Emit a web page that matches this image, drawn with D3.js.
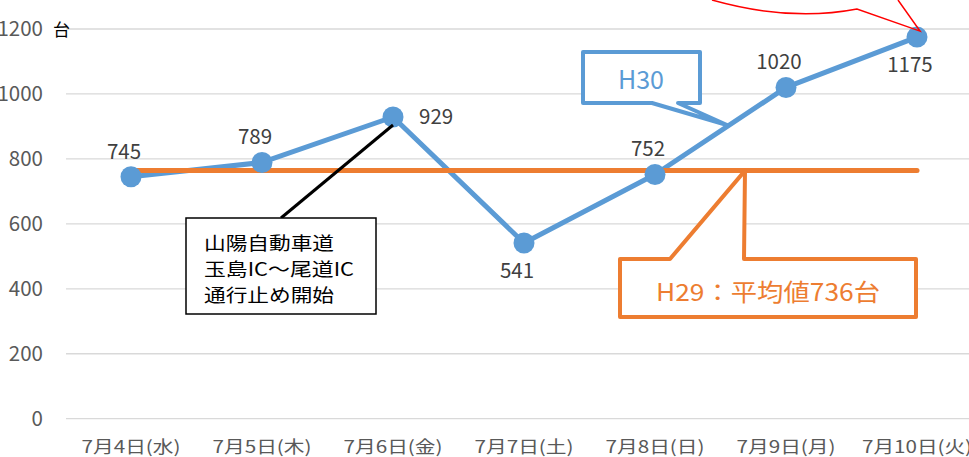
<!DOCTYPE html>
<html>
<head>
<meta charset="utf-8">
<script src="https://cdn.jsdelivr.net/npm/d3@7"></script>
<style>
  body { margin: 0; background: #fff; }
  svg { display: block; font-family: "Noto Sans CJK JP", "Noto Sans", sans-serif; }
</style>
</head>
<body>
<svg id="chart" width="969" height="457"></svg>
<script>
// data
var days = ['7月4日(水)', '7月5日(木)', '7月6日(金)', '7月7日(土)', '7月8日(日)', '7月9日(月)', '7月10日(火)']
var h30 = [745, 789, 929, 541, 752, 1020, 1175]
var h29avg = 764   // where the orange line sits in the picture
var yTicks = [0, 200, 400, 600, 800, 1000, 1200]
// label position for each point: up / down / right
var labelPos = ['up', 'up', 'right', 'down', 'up', 'up', 'down']

var svg = d3.select('#chart')
var blue = '#5b9bd5', orange = '#ed7d31'

var x = d3.scaleBand().domain(days).range([65.5, 982.5])
var y = d3.scaleLinear().domain([0, 1200]).range([418.7, 29])
var cx = d => x(d) + x.bandwidth() / 2

// grid
svg.append('g').selectAll('line').data(yTicks).join('line')
    .attr('x1', 66).attr('x2', 969)
    .attr('y1', d => y(d)).attr('y2', d => y(d))
    .attr('stroke', '#d9d9d9').attr('stroke-width', 1.3)

// y labels
svg.append('g').selectAll('text').data(yTicks).join('text')
    .attr('x', 43).attr('y', d => y(d) + 7)
    .attr('text-anchor', 'end')
    .attr('font-size', 20.5).attr('fill', '#595959')
    .text(d => d)
svg.append('text').attr('x', 53).attr('y', 36).attr('font-size', 17).attr('fill', '#000').text('台')

// x labels
svg.append('g').selectAll('text').data(days).join('text')
    .attr('x', d => cx(d)).attr('y', 453)
    .attr('text-anchor', 'middle')
    .attr('font-size', 17).attr('fill', '#595959')
    .attr('textLength', (d, i) => i == 6 ? 110 : 99).attr('lengthAdjust', 'spacingAndGlyphs')
    .text(d => d)

// H30 line
var line = d3.line().x((d, i) => cx(days[i])).y(d => y(d))
svg.append('path').datum(h30)
    .attr('d', line).attr('fill', 'none')
    .attr('stroke', blue).attr('stroke-width', 5).attr('stroke-linejoin', 'round')

// H29 average line
svg.append('line')
    .attr('x1', cx(days[0])).attr('x2', cx(days[6]))
    .attr('y1', y(h29avg)).attr('y2', y(h29avg))
    .attr('stroke', orange).attr('stroke-width', 5).attr('stroke-linecap', 'round')

svg.append('g').selectAll('circle').data(h30).join('circle')
    .attr('cx', (d, i) => cx(days[i])).attr('cy', d => y(d))
    .attr('r', 10.5).attr('fill', blue)

// value labels
svg.append('g').selectAll('text').data(h30).join('text')
    .attr('x', (d, i) => cx(days[i]) + (labelPos[i] == 'right' ? 26 : -7))
    .attr('y', (d, i) => labelPos[i] == 'up' ? y(d) - 18 : labelPos[i] == 'down' ? y(d) + 35 : y(d) + 7)
    .attr('text-anchor', (d, i) => labelPos[i] == 'right' ? 'start' : 'middle')
    .attr('font-size', 20.5).attr('fill', '#404040')
    .text(d => d)

// black callout
var p929 = [cx(days[2]), y(h30[2])]
svg.append('line').attr('x1', 281).attr('y1', 218).attr('x2', p929[0]).attr('y2', p929[1] + 8)
    .attr('stroke', '#000').attr('stroke-width', 3)
svg.append('rect').attr('x', 186).attr('y', 218).attr('width', 190).attr('height', 96)
    .attr('fill', '#fff').attr('stroke', '#000').attr('stroke-width', 1.5)
var note = ['山陽自動車道', '玉島IC～尾道IC', '通行止め開始']
svg.append('g').selectAll('text').data(note).join('text')
    .attr('x', 204).attr('y', (d, i) => 250 + i * 26)
    .attr('font-size', 18).attr('fill', '#000')
    .attr('textLength', (d, i) => [130, 150, 130][i]).attr('lengthAdjust', 'spacingAndGlyphs')
    .text(d => d)

// H30 callout
svg.append('path')
    .attr('d', 'M583,52 L700,52 L700,103 L678,103 L727,125 L652,103 L583,103 Z')
    .attr('fill', '#fff').attr('stroke', blue).attr('stroke-width', 4).attr('stroke-linejoin', 'round')
svg.append('text').attr('x', 641).attr('y', 89).attr('text-anchor', 'middle')
    .attr('font-size', 25).attr('fill', blue).text('H30')

// H29 callout
var ya = y(h29avg)
svg.append('path')
    .attr('d', 'M620,259 L670,259 L745,' + ya + ' L744,259 L916,259 L916,317 L620,317 Z')
    .attr('fill', '#fff').attr('stroke', orange).attr('stroke-width', 4).attr('stroke-linejoin', 'round')
svg.append('text').attr('x', 768).attr('y', 301).attr('text-anchor', 'middle')
    .attr('font-size', 24).attr('fill', orange)
    .attr('textLength', 224).attr('lengthAdjust', 'spacingAndGlyphs')
    .text('H29：平均値736台')

// red arrow at top
var p1175 = [cx(days[6]) + 3, y(h30[6]) - 6]
svg.append('path')
    .attr('d', 'M712,0 Q790,22 857,9 L' + p1175[0] + ',' + p1175[1] + ' L898,0')
    .attr('fill', 'none').attr('stroke', '#ff0000').attr('stroke-width', 1.5)
</script>
</body>
</html>
